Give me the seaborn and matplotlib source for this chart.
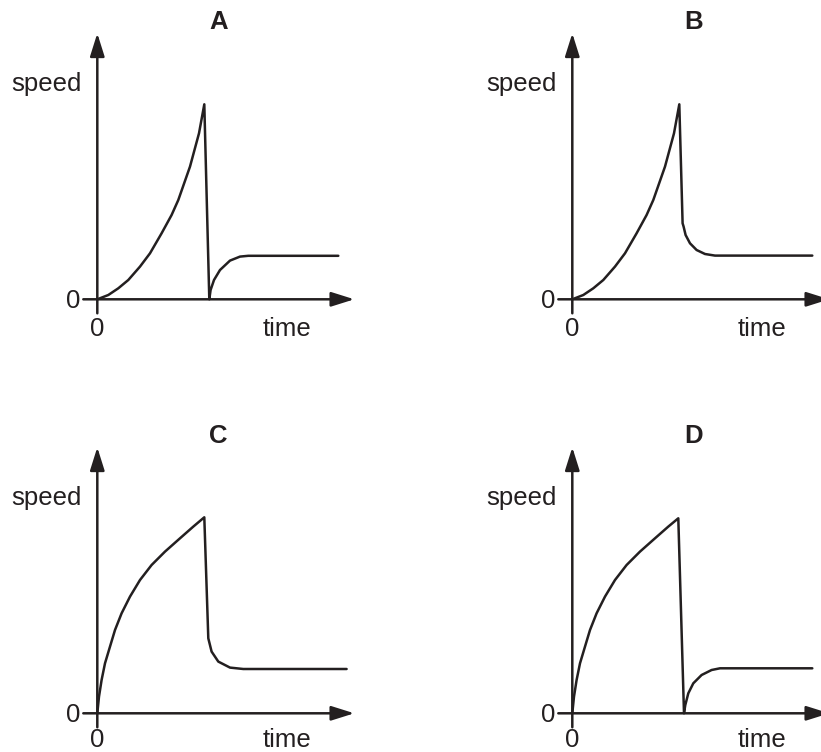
import matplotlib
matplotlib.use('Agg')
import matplotlib.pyplot as plt
import seaborn as sns

sns.set_style('white')
plt.rcParams['font.family'] = ['Liberation Sans', 'DejaVu Sans']

INK = '#231f20'

# speed-time curves (time, speed in arbitrary units)
time_a = [0, 1.1, 2.1, 3.1, 4.27, 5.27, 6.43, 7.43, 8.1, 9.27, 10.17, 10.7,
          11.2, 11.33, 11.67, 12.27, 13.27, 14.27, 15.1, 24.1]
speed_a = [0, 0.43, 1.1, 1.93, 3.27, 4.6, 6.6, 8.43, 9.93, 13.27, 16.6, 19.5,
           0, 0.93, 1.93, 2.93, 3.87, 4.27, 4.35, 4.35]

time_b = [0, 1.1, 2.1, 3.1, 4.27, 5.27, 6.43, 7.43, 8.1, 9.27, 10.17, 10.7,
          11.03, 11.13, 11.33, 11.77, 12.43, 13.27, 14.27, 24.0]
speed_b = [0, 0.43, 1.1, 1.93, 3.27, 4.6, 6.6, 8.43, 9.93, 13.27, 16.6, 19.5,
           7.6, 7.27, 6.43, 5.6, 4.93, 4.53, 4.37, 4.37]

time_c = [0, 0.17, 0.43, 0.77, 1.27, 1.77, 2.43, 3.27, 4.27, 5.43, 6.77, 8.27, 9.6, 10.7,
          11.1, 11.43, 12.1, 13.27, 14.6, 24.93]
speed_c = [0, 1.67, 3.33, 5.0, 6.67, 8.33, 10.0, 11.67, 13.33, 14.83, 16.17, 17.5, 18.67, 19.6,
           7.5, 6.17, 5.17, 4.57, 4.43, 4.43]

time_d = [0, 0.17, 0.43, 0.77, 1.27, 1.77, 2.43, 3.27, 4.27, 5.43, 6.77, 8.27, 9.6, 10.6,
          11.17, 11.3, 11.6, 12.1, 12.93, 13.93, 14.77, 24.0]
speed_d = [0, 1.67, 3.33, 5.0, 6.67, 8.33, 10.0, 11.67, 13.33, 14.83, 16.17, 17.5, 18.67, 19.5,
           0, 0.83, 2.0, 3.0, 3.83, 4.33, 4.5, 4.5]

labels = ['A', 'B', 'C', 'D']
times = [time_a, time_b, time_c, time_d]
speeds = [speed_a, speed_b, speed_c, speed_d]

# origin of each panel in pixels (x from left, y from top)
origins = [(97.3, 299.3), (572.3, 299.3), (97.3, 713.3), (572.3, 713.3)]

W, H = 821, 752
fig = plt.figure(figsize=(W / 100, H / 100), dpi=100)

for lab, t, v, (ox, oy) in zip(labels, times, speeds, origins):
    # 1 unit = 10 px; axes spans x -9.7..28.3, y -5..30
    left = ox - 97
    bottom = oy + 50
    ax = fig.add_axes([left / W, (H - bottom) / H, 380 / W, 350 / H])
    ax.set_xlim(-9.7, 28.3)
    ax.set_ylim(-5, 30)
    ax.axis('off')

    sns.lineplot(x=t, y=v, ax=ax, sort=False, estimator=None,
                 color=INK, lw=1.8, clip_on=False)

    arrow = dict(arrowstyle='-|>,head_length=0.7,head_width=0.22',
                 mutation_scale=20, lw=1.8, color=INK,
                 shrinkA=0, shrinkB=0)
    ax.annotate('', xy=(25.7, 0), xytext=(-1.4, 0), arrowprops=arrow,
                annotation_clip=False)
    ax.annotate('', xy=(0, 26.6), xytext=(0, -1.4), arrowprops=arrow,
                annotation_clip=False)

    # bottom row sits right at the lower edge, lift its time labels a touch
    base = -3.7 if oy < 400 else -3.35

    ax.text(12.1, 27.0, lab, ha='center', va='baseline', fontsize=18.5,
            fontweight='bold', color=INK)
    ax.text(-1.6, 20.8, 'speed', ha='right', va='baseline', fontsize=18.5, color=INK)
    ax.text(-1.7, -0.9, '0', ha='right', va='baseline', fontsize=18.5, color=INK)
    ax.text(0, base, '0', ha='center', va='baseline', fontsize=18.5, color=INK)
    ax.text(19.0, base, 'time', ha='center', va='baseline', fontsize=18.5, color=INK)

fig.savefig('out.png', dpi=100)
